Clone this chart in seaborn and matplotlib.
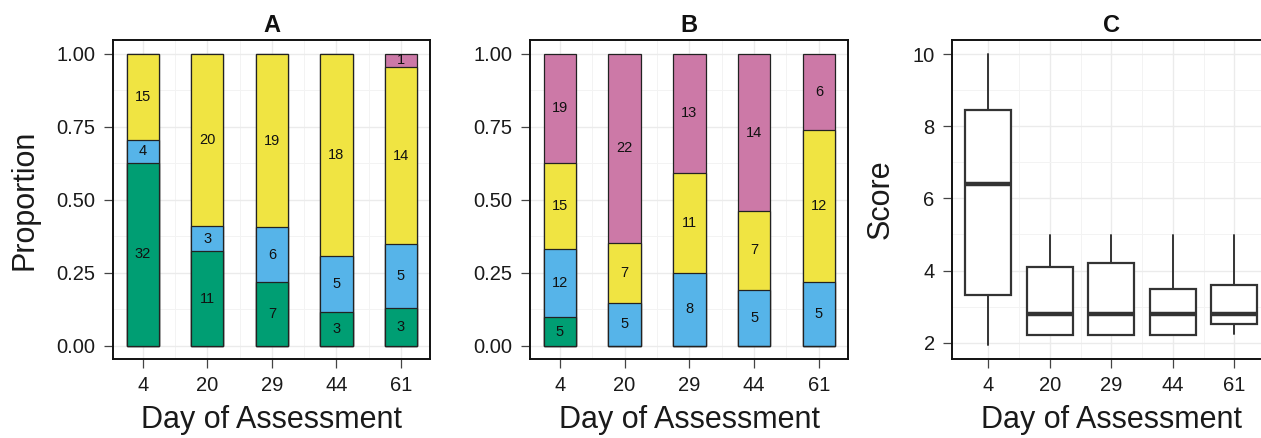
import matplotlib
matplotlib.use("Agg")
import matplotlib.pyplot as plt
import numpy as np
import pandas as pd
import seaborn as sns

days = ["4", "20", "29", "44", "61"]
groups = ["green", "blue", "yellow", "pink"]  # bottom -> top
colors = {"green": "#009E73", "blue": "#56B4E9", "yellow": "#F0E442", "pink": "#CC79A7"}

# panel A counts
a_green = [32, 11, 7, 3, 3]
a_blue = [4, 3, 6, 5, 5]
a_yellow = [15, 20, 19, 18, 14]
a_pink = [0, 0, 0, 0, 1]

# panel B counts
b_green = [5, 0, 0, 0, 0]
b_blue = [12, 5, 8, 5, 5]
b_yellow = [15, 7, 11, 7, 12]
b_pink = [19, 22, 13, 14, 6]

# panel C box stats
c_low = [1.94, 2.21, 2.21, 2.21, 2.23]
c_q1 = [3.32, 2.21, 2.21, 2.21, 2.52]
c_med = [6.40, 2.81, 2.81, 2.81, 2.81]
c_q3 = [8.45, 4.11, 4.22, 3.48, 3.59]
c_high = [10.0, 4.98, 4.98, 4.98, 4.98]

sns.set_theme(style="white")
plt.rcParams["font.family"] = ["Liberation Sans", "DejaVu Sans"]

TXT = "#1a1a1a"


def style_axes(ax, title, ylabel, xlim, ylim, yticks, yminor, ylabels):
    ax.set_xlim(*xlim)
    ax.set_ylim(*ylim)
    ax.set_xticks(range(len(days)))
    ax.set_xticklabels(days)
    ax.set_xticks(np.arange(0.5, len(days) - 1, 1.0), minor=True)
    ax.set_yticks(yticks)
    ax.set_yticklabels(ylabels)
    ax.set_yticks(yminor, minor=True)
    ax.grid(True, which="major", color="#EBEBEB", linewidth=1.0)
    ax.grid(True, which="minor", color="#F3F3F3", linewidth=0.7)
    ax.set_axisbelow(True)
    ax.tick_params(which="major", length=6.5, width=0.9, color="#444444",
                   labelsize=14.5, labelcolor=TXT, pad=6, bottom=True, left=True)
    ax.tick_params(which="minor", length=0)
    for s in ax.spines.values():
        s.set_color("#111111")
        s.set_linewidth(1.4)
    ax.set_title(title, fontsize=17, fontweight="bold", pad=6, color="#111111")
    ax.set_xlabel("Day of Assessment", fontsize=22, labelpad=7, color=TXT)
    ax.set_ylabel(ylabel, fontsize=22, labelpad=12, color=TXT)


def stacked(ax, counts):
    df = pd.DataFrame(counts, index=days)
    prop = df.div(df.sum(axis=1), axis=0)
    cum = prop.cumsum(axis=1)
    # draw from top group down so lower segments cover upper bars
    for g in reversed(groups):
        if (df[g] == 0).all():
            continue
        sns.barplot(x=days, y=cum[g].values, color=colors[g], width=0.5,
                    edgecolor="#222222", linewidth=0.9, saturation=1, ax=ax)
    for i, d in enumerate(days):
        bottom = 0.0
        for g in groups:
            n = df.loc[d, g]
            p = prop.loc[d, g]
            if n > 0:
                ax.text(i, bottom + p / 2, str(n), ha="center", va="center",
                        fontsize=10.5, color="#111111")
            bottom += p


fig = plt.figure(figsize=(12.61, 4.38), dpi=100)
axA = fig.add_axes([0.0896, 0.1804, 0.2514, 0.7283])
axB = fig.add_axes([0.4203, 0.1804, 0.2522, 0.7283])
axC = fig.add_axes([0.7550, 0.1804, 0.2526, 0.7283])

stacked(axA, {"green": a_green, "blue": a_blue, "yellow": a_yellow, "pink": a_pink})
stacked(axB, {"green": b_green, "blue": b_blue, "yellow": b_yellow, "pink": b_pink})

pticks = [0, 0.25, 0.5, 0.75, 1.0]
plabels = ["0.00", "0.25", "0.50", "0.75", "1.00"]
style_axes(axA, "A", "Proportion", (-0.46, 4.45), (-0.045, 1.048),
           pticks, [0.125, 0.375, 0.625, 0.875], plabels)
style_axes(axB, "B", "", (-0.46, 4.45), (-0.045, 1.048),
           pticks, [0.125, 0.375, 0.625, 0.875], plabels)

stats = []
for i, d in enumerate(days):
    stats.append({"label": d, "whislo": c_low[i], "q1": c_q1[i], "med": c_med[i],
                  "q3": c_q3[i], "whishi": c_high[i], "fliers": []})
axC.bxp(stats, positions=range(len(days)), widths=0.75, showcaps=False,
        showfliers=False, patch_artist=True,
        boxprops=dict(facecolor="white", edgecolor="#333333", linewidth=1.6),
        medianprops=dict(color="#333333", linewidth=3.2, solid_capstyle="butt"),
        whiskerprops=dict(color="#333333", linewidth=1.4))
style_axes(axC, "C", "Score", (-0.59, 4.59), (1.55, 10.39),
           [2, 4, 6, 8, 10], [3, 5, 7, 9], ["2", "4", "6", "8", "10"])

fig.savefig("out.png", dpi=100)
